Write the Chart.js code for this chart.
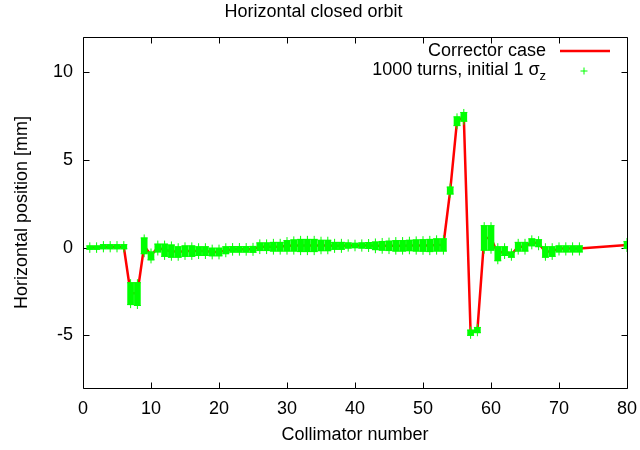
<!DOCTYPE html>
<html>
<head>
<meta charset="utf-8">
<script src="https://cdn.jsdelivr.net/npm/chart.js@4"></script>
<style>
  body { margin: 0; background: #fff; }
  canvas { display: block; }
</style>
</head>
<body>
<canvas id="grafico" width="640" height="450"></canvas>
<script>
// Collimator numbers (73 is followed directly by 80)
const collimators = [1, 2, 3, 4, 5, 6, 7, 8, 9, 10, 11, 12, 13, 14, 15, 16, 17, 18, 19, 20,
  21, 22, 23, 24, 25, 26, 27, 28, 29, 30, 31, 32, 33, 34, 35, 36, 37, 38, 39, 40,
  41, 42, 43, 44, 45, 46, 47, 48, 49, 50, 51, 52, 53, 54, 55, 56, 57, 58, 59, 60,
  61, 62, 63, 64, 65, 66, 67, 68, 69, 70, 71, 72, 73, 80]

// Corrector case, horizontal position [mm]
const corrector = [0, 0, 0.05, 0.05, 0.05, 0.05, -2.6, -2.6, 0.1, -0.45, 0, -0.15, -0.2, -0.25, -0.2, -0.2, -0.2, -0.2, -0.25, -0.25,
  -0.15, -0.1, -0.1, -0.1, -0.1, 0.05, 0.05, 0.05, 0.05, 0.1, 0.12, 0.12, 0.12, 0.12, 0.12, 0.12, 0.1, 0.1, 0.12, 0.12,
  0.12, 0.12, 0.1, 0.1, 0.1, 0.1, 0.1, 0.12, 0.12, 0.12, 0.12, 0.15, 0.15, 3.25, 7.2, 7.45, -4.85, -4.7, 0.55, 0.55,
  -0.35, -0.2, -0.4, 0.05, 0.05, 0.3, 0.25, -0.25, -0.2, -0.05, -0.05, -0.05, -0.05, 0.15]

// 1000 turns, initial 1 sigma_z: lowest and highest position seen at each collimator
const turnsLow = [-0.1, -0.1, -0.07, -0.07, -0.07, -0.07, -3.25, -3.3, -0.35, -0.7, -0.25, -0.5, -0.55, -0.55, -0.5, -0.5, -0.45, -0.45, -0.47, -0.47,
  -0.35, -0.26, -0.26, -0.26, -0.27, -0.17, -0.17, -0.2, -0.2, -0.2, -0.2, -0.23, -0.23, -0.23, -0.18, -0.18, -0.1, -0.1, -0.03, -0.01,
  -0.03, -0.05, -0.12, -0.15, -0.17, -0.2, -0.2, -0.18, -0.2, -0.21, -0.23, -0.2, -0.2, 3.05, 6.95, 7.2, -5.0, -4.85, -0.15, -0.15,
  -0.75, -0.45, -0.55, -0.2, -0.2, 0.1, 0.05, -0.55, -0.5, -0.25, -0.25, -0.25, -0.25, -0.05]
const turnsHigh = [0.1, 0.1, 0.17, 0.17, 0.17, 0.17, -2.0, -2.0, 0.55, -0.25, 0.2, 0.2, 0.15, 0.05, 0.1, 0.1, 0.05, 0.05, -0.03, -0.03,
  0.05, 0.06, 0.06, 0.06, 0.07, 0.27, 0.27, 0.3, 0.3, 0.4, 0.44, 0.47, 0.47, 0.47, 0.42, 0.42, 0.3, 0.3, 0.27, 0.25,
  0.27, 0.29, 0.32, 0.35, 0.37, 0.4, 0.4, 0.42, 0.44, 0.45, 0.47, 0.5, 0.5, 3.45, 7.45, 7.7, -4.7, -4.55, 1.25, 1.25,
  0.05, 0.05, -0.25, 0.3, 0.3, 0.5, 0.45, 0.05, 0.05, 0.1, 0.1, 0.1, 0.1, 0.35]

const yTicks = [-5, 0, 5, 10]

const FONT = 'Liberation Sans, Arial, sans-serif'
Chart.defaults.font.family = FONT
Chart.defaults.font.size = 18
Chart.defaults.color = '#000'

// Border box with inward tick marks on all four sides
const frame = {
  id: 'frame',
  beforeDatasetsDraw(chart) {
    const { ctx, chartArea: a, scales: { x, y } } = chart
    const L = Math.round(a.left) + 0.5, R = Math.round(a.right) + 0.5
    const T = Math.round(a.top) + 0.5, B = Math.round(a.bottom) + 0.5
    ctx.save()
    ctx.strokeStyle = '#000'
    ctx.lineWidth = 1
    ctx.beginPath()
    ctx.rect(L, T, R - L, B - T)
    x.ticks.forEach(t => {
      const px = Math.round(x.getPixelForValue(t.value)) + 0.5
      ctx.moveTo(px, B); ctx.lineTo(px, B - 6)
      ctx.moveTo(px, T); ctx.lineTo(px, T + 6)
    })
    y.ticks.forEach(t => {
      const py = Math.round(y.getPixelForValue(t.value)) + 0.5
      ctx.moveTo(L, py); ctx.lineTo(L + 6, py)
      ctx.moveTo(R, py); ctx.lineTo(R - 6, py)
    })
    ctx.stroke()
    ctx.restore()
  }
}

// Legend in the top right corner, text right-aligned with the sample on its right
const key = {
  id: 'key',
  afterDraw(chart) {
    const { ctx } = chart
    const textRight = 546
    ctx.save()
    ctx.fillStyle = '#000'
    ctx.textAlign = 'right'
    ctx.textBaseline = 'middle'
    ctx.font = '18px ' + FONT
    ctx.fillText('Corrector case', textRight, 51)

    ctx.font = '13px ' + FONT
    const zw = ctx.measureText('z').width
    ctx.fillText('z', textRight, 76)
    ctx.font = '18px ' + FONT
    ctx.fillText('1000 turns, initial 1 σ', textRight - zw, 70)

    ctx.strokeStyle = '#ff0000'
    ctx.lineWidth = 2.5
    ctx.beginPath()
    ctx.moveTo(560, 51); ctx.lineTo(610, 51)
    ctx.stroke()

    ctx.strokeStyle = '#00ff00'
    ctx.lineWidth = 1
    ctx.beginPath()
    ctx.moveTo(580.5, 71); ctx.lineTo(587.5, 71)
    ctx.moveTo(584, 67.5); ctx.lineTo(584, 74.5)
    ctx.stroke()
    ctx.restore()
  }
}

// fixed box sizes, no extra room for edge labels
function fixBox(w, h) {
  return s => {
    if (w) s.width = w
    if (h) s.height = h
    s.paddingLeft = s.paddingRight = s.paddingTop = s.paddingBottom = 0
  }
}

const crossPoints = []
collimators.forEach((c, i) => {
  crossPoints.push({ x: c, y: turnsLow[i] })
  crossPoints.push({ x: c, y: turnsHigh[i] })
})

new Chart(document.getElementById('grafico'), {
  type: 'scatter',
  data: {
    datasets: [
      {
        type: 'bar',
        label: '1000 turns, initial 1 σz',
        data: collimators.map((c, i) => ({ x: c, y: [turnsLow[i], turnsHigh[i]] })),
        backgroundColor: '#00ff00',
        borderWidth: 0,
        barThickness: 6,
        grouped: false,
        order: 0
      },
      {
        type: 'scatter',
        label: 'edges',
        data: crossPoints,
        pointStyle: 'cross',
        pointRadius: 3.5,
        borderColor: '#00ff00',
        borderWidth: 1,
        order: 0
      },
      {
        type: 'line',
        label: 'Corrector case',
        data: collimators.map((c, i) => ({ x: c, y: corrector[i] })),
        borderColor: '#ff0000',
        borderWidth: 2.5,
        pointRadius: 0,
        tension: 0,
        fill: false,
        order: 2
      }
    ]
  },
  options: {
    responsive: false,
    animation: false,
    devicePixelRatio: 1,
    layout: { padding: { left: 0, right: 13, top: 0, bottom: 0 } },
    plugins: {
      legend: { display: false },
      tooltip: { enabled: false },
      title: {
        display: true,
        text: 'Horizontal closed orbit',
        font: { size: 18, weight: 'normal' },
        color: '#000',
        padding: { top: 1, bottom: 14.4 }
      }
    },
    scales: {
      x: {
        type: 'linear',
        min: 0,
        max: 80,
        offset: false,
        grid: { display: false, drawTicks: false },
        border: { display: false },
        ticks: { stepSize: 10, padding: 10, maxRotation: 0 },
        title: { display: true, text: 'Collimator number', padding: { top: 0, bottom: 4 } },
        afterFit: fixBox(0, 62)
      },
      y: {
        type: 'linear',
        min: -8,
        max: 12,
        grid: { display: false, drawTicks: false },
        border: { display: false },
        ticks: { padding: 10 },
        afterBuildTicks: s => { s.ticks = yTicks.map(v => ({ value: v })) },
        title: { display: true, text: 'Horizontal position [mm]', padding: { top: 11, bottom: 0 } },
        afterFit: fixBox(83, 0)
      }
    }
  },
  plugins: [frame, key]
})
</script>
</body>
</html>
